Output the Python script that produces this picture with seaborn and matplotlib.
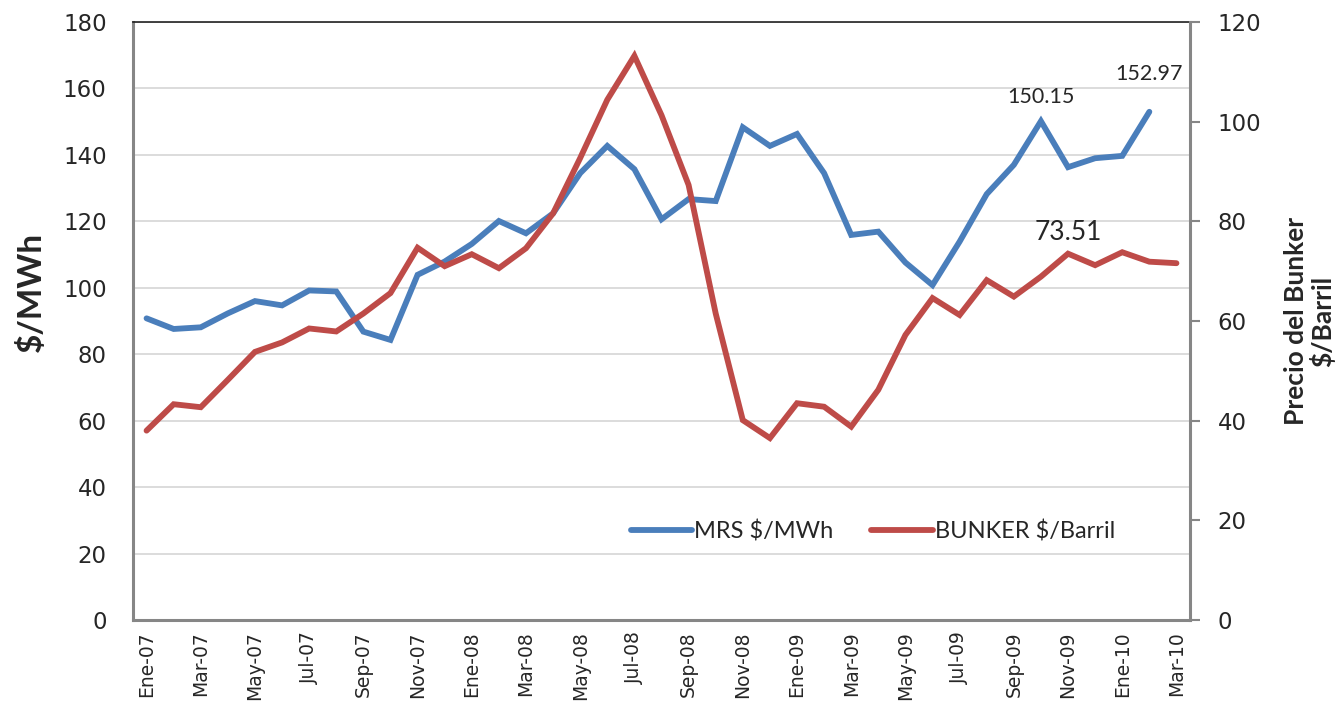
import numpy as np
import pandas as pd
import matplotlib
matplotlib.use("Agg")
import matplotlib.pyplot as plt
import seaborn as sns

# Monthly series, Ene-07 .. Mar-10
months = ["Ene-07", "Feb-07", "Mar-07", "Abr-07", "May-07", "Jun-07", "Jul-07", "Ago-07",
          "Sep-07", "Oct-07", "Nov-07", "Dic-07",
          "Ene-08", "Feb-08", "Mar-08", "Abr-08", "May-08", "Jun-08", "Jul-08", "Ago-08",
          "Sep-08", "Oct-08", "Nov-08", "Dic-08",
          "Ene-09", "Feb-09", "Mar-09", "Abr-09", "May-09", "Jun-09", "Jul-09", "Ago-09",
          "Sep-09", "Oct-09", "Nov-09", "Dic-09",
          "Ene-10", "Feb-10", "Mar-10"]

mrs = [90.8, 87.6, 88.1, 92.3, 96.0, 94.7, 99.2, 98.9, 86.8, 84.3, 103.9, 107.9,
       113.2, 120.1, 116.4, 122.4, 134.5, 142.7, 135.7, 120.6, 126.7, 126.1, 148.3, 142.7,
       146.3, 134.5, 115.9, 116.9, 107.6, 100.8, 113.9, 128.2, 137.0, 150.15, 136.3, 139.0,
       139.7, 152.97, np.nan]

bunker = [38.0, 43.3, 42.7, 48.2, 53.8, 55.7, 58.5, 57.9, 61.5, 65.6, 74.7, 71.0,
          73.4, 70.6, 74.6, 81.6, 92.7, 104.4, 113.2, 101.3, 87.3, 61.5, 40.1, 36.5,
          43.5, 42.8, 38.8, 46.2, 57.2, 64.6, 61.2, 68.2, 64.9, 68.9, 73.51, 71.2,
          73.8, 71.9, 71.6]

# points that carry a value label
mrs_labels = {33: "150.15", 37: "152.97"}
bunker_labels = {34: "73.51"}

# vertical offset (points) of each value label above its point
label_offset = {33: 10, 37: 20, 34: 6}

BLUE = "#4A7EBB"
RED = "#BE4B48"
GRAY = "#868686"

sns.set_style("white")
plt.rcParams['font.family'] = ['DejaVu Sans']

df = pd.DataFrame({"idx": np.arange(len(months)), "mes": months,
                   "MRS": mrs, "BUNKER": bunker})

fig = plt.figure(figsize=(13.4, 7.06), dpi=100)
ax = fig.add_axes([133/1340, 1 - 620/706, (1190-133)/1340, (620-22)/706])
ax2 = ax.twinx()

sns.lineplot(data=df, x="idx", y="MRS", ax=ax, color=BLUE, lw=4.2,
             solid_joinstyle="miter", label="MRS $/MWh", legend=False)
sns.lineplot(data=df, x="idx", y="BUNKER", ax=ax2, color=RED, lw=4.2,
             solid_joinstyle="miter", label="BUNKER $/Barril", legend=False)

ax.set_xlim(-0.5, len(months) - 0.5)
ax.set_ylim(0, 180)
ax2.set_ylim(0, 120)
ax.set_yticks(np.arange(0, 181, 20))
ax2.set_yticks(np.arange(0, 121, 20))
ax.set_xticks(df["idx"][::2])
ax.set_xticklabels(df["mes"][::2], rotation=90, fontsize=13.5)
ax.grid(axis="y", color="#D9D9D9", lw=1.3)
ax.set_axisbelow(True)

ax.tick_params(axis="y", labelsize=16.5, length=0, pad=19)
ax.tick_params(axis="x", length=0, pad=8)
ax2.tick_params(axis="y", labelsize=16.5, length=7, width=1.5, color=GRAY,
                direction="out", pad=13)

ax.set_xlabel("")
ax.set_ylabel("$/MWh", fontsize=24, fontweight="bold", family="Lato", labelpad=12)
ax.yaxis.label.set_y(0.548)
ax2.set_ylabel("Precio del Bunker\n$/Barril", fontsize=19, fontweight="bold",
               family="Lato", labelpad=16, linespacing=1.05)

for s in ["left", "bottom"]:
    ax.spines[s].set_color(GRAY)
    ax.spines[s].set_linewidth(2.2)
ax.spines["right"].set_visible(False)
ax.spines["top"].set_color("#222222")
ax.spines["top"].set_linewidth(1.2)
for s in ["left", "bottom", "top"]:
    ax2.spines[s].set_visible(False)
ax2.spines["right"].set_color(GRAY)
ax2.spines["right"].set_linewidth(2.2)

for i, txt in mrs_labels.items():
    ax.annotate(txt, (i, mrs[i]), xytext=(0, label_offset[i]), textcoords="offset points",
                ha="center", va="bottom", fontsize=15.5, family="Lato")
for i, txt in bunker_labels.items():
    ax2.annotate(txt, (i, bunker[i]), xytext=(0, label_offset[i]), textcoords="offset points",
                 ha="center", va="bottom", fontsize=19, family="Lato")

h1, l1 = ax.get_legend_handles_labels()
h2, l2 = ax2.get_legend_handles_labels()
leg = ax2.legend(h1 + h2, l1 + l2, ncol=2, frameon=False, loc="center",
                 bbox_to_anchor=(0.70, 0.148), prop={"family": "Lato", "size": 17},
                 handlelength=2.6, handletextpad=0.1, columnspacing=1.6)

fig.savefig("out.png", dpi=100)
